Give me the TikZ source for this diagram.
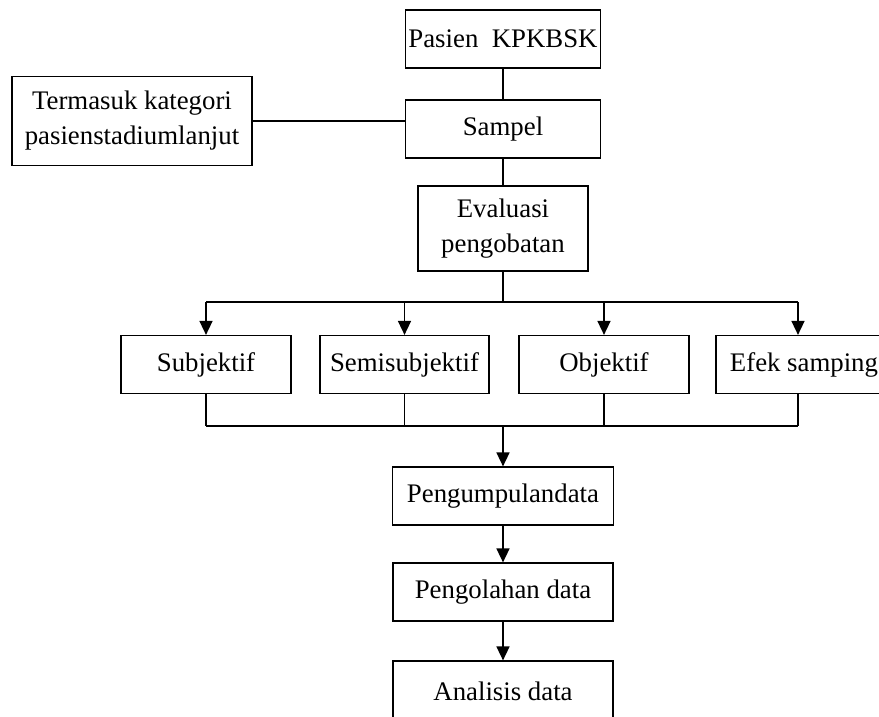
\documentclass[tikz,border=0pt]{standalone}
\usepackage{fontspec}
\setmainfont{Liberation Serif}
\usetikzlibrary{arrows.meta}

\begin{document}
\begin{tikzpicture}[x=0.5pt,y=-0.5pt,>={Triangle[width=6.5pt,length=7pt]},line width=0.8pt,
    box node/.style={draw,line width=0.6pt,rectangle,inner sep=0pt,align=center,minimum height=29pt,font=\fontsize{13.4}{17.5}\selectfont}]
    \useasboundingbox (0,0) rectangle (879,717);
    \clip (0,0) rectangle (879,717);

    \node[box node,minimum width=97.5pt] (pasien) at (503,39) {Pasien\ \ KPKBSK};
    \node[box node,minimum width=97.5pt] (sampel) [below of=pasien,node distance=45pt] {Sampel};
    \node[box node,minimum width=85pt,minimum height=42.5pt] (evaluasi) [below of=sampel,node distance=49.75pt] {Evaluasi\\pengobatan};
    \node[box node,minimum width=120pt,minimum height=44.5pt] (termasuk) at (132,121) {Termasuk kategori\\pasienstadiumlanjut};

    \node[box node,minimum width=84.5pt] (semi) at (404.5,364.5) {Semisubjektif};
    \node[box node,minimum width=85pt] (subjektif) [left of=semi,node distance=99.25pt] {Subjektif};
    \node[box node,minimum width=85pt] (objektif) [right of=semi,node distance=99.75pt] {Objektif};
    \node[box node,minimum width=82pt] (efek) [right of=objektif,node distance=97pt] {\hspace{6pt}Efek samping};

    \node[box node,minimum width=110.5pt] (kumpul) at (503,496) {Pengumpulandata};
    \node[box node,minimum width=110pt] (olah) [below of=kumpul,node distance=48pt] {Pengolahan data};
    \node[box node,minimum width=110pt,minimum height=30pt] (analisis) [below of=olah,node distance=49.5pt] {Analisis data};

    \coordinate (split) at (503,302);
    \coordinate (join) at (503,426);

    \path
        (pasien) edge (sampel)
        (sampel) edge (evaluasi)
        (termasuk.east) edge (termasuk.east -| sampel.west)
        (evaluasi) edge (split)
        ;
    \draw (subjektif.north |- split) -- (efek.north |- split);
    \draw (subjektif.south |- join) -- (efek.south |- join);
    \foreach \n in {subjektif,semi,objektif,efek} {
        \draw[->] (\n.north |- split) -- (\n.north);
        \draw (\n.south) -- (\n.south |- join);
    }
    \draw[->] (join) -- (kumpul);
    \draw[->] (kumpul) -- (olah);
    \draw[->] (olah) -- (analisis);
\end{tikzpicture}
\end{document}
